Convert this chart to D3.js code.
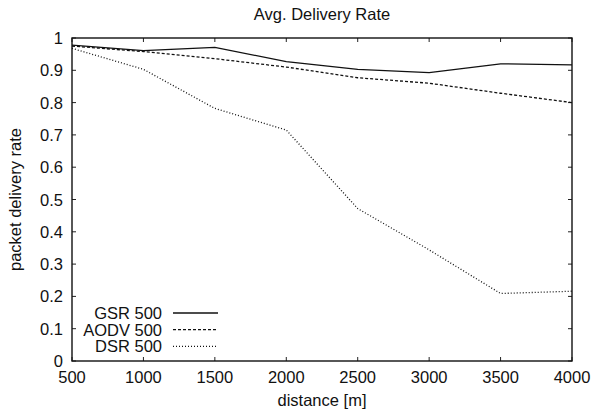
<!DOCTYPE html>
<html>
<head>
<meta charset="utf-8">
<script src="https://cdn.jsdelivr.net/npm/d3@7"></script>
<style>
  body { margin: 0; background: #fff; }
  text { font-family: "Liberation Sans", Arial, sans-serif; fill: #111; }
</style>
</head>
<body>
<div id="chart"></div>
<script>
const distances = [500, 1000, 1500, 2000, 2500, 3000, 3500, 4000]
const gsr = [0.978, 0.961, 0.971, 0.927, 0.903, 0.893, 0.920, 0.917]
const aodv = [0.975, 0.958, 0.936, 0.910, 0.877, 0.860, 0.829, 0.800]
const dsr = [0.968, 0.903, 0.782, 0.715, 0.472, 0.344, 0.209, 0.216]
const seriesNames = ["GSR 500", "AODV 500", "DSR 500"]
const xTicks = [500, 1000, 1500, 2000, 2500, 3000, 3500, 4000]
const yTicks = [0, 0.1, 0.2, 0.3, 0.4, 0.5, 0.6, 0.7, 0.8, 0.9, 1]

const width = 592, height = 413
const margin = {top: 38, right: 20, bottom: 52, left: 72}
const fs = 16.5

const svg = d3.select("#chart").append("svg")
  .attr("width", width)
  .attr("height", height)

const x = d3.scaleLinear().domain([500, 4000]).range([margin.left, width - margin.right])
const y = d3.scaleLinear().domain([0, 1]).range([height - margin.bottom, margin.top])

// ticks, inward on all four sides
const tickLen = 4
const g = svg.append("g").attr("stroke", "#222").attr("stroke-width", 1)
xTicks.forEach(t => {
  g.append("line").attr("x1", x(t)).attr("x2", x(t)).attr("y1", y(0)).attr("y2", y(0) - tickLen)
  g.append("line").attr("x1", x(t)).attr("x2", x(t)).attr("y1", y(1)).attr("y2", y(1) + tickLen)
})
yTicks.forEach(t => {
  g.append("line").attr("x1", x(500)).attr("x2", x(500) + tickLen).attr("y1", y(t)).attr("y2", y(t))
  g.append("line").attr("x1", x(4000)).attr("x2", x(4000) - tickLen).attr("y1", y(t)).attr("y2", y(t))
})

svg.append("g").selectAll("text")
  .data(xTicks).enter().append("text")
  .attr("x", d => x(d)).attr("y", y(0) + 22)
  .attr("text-anchor", "middle")
  .attr("font-size", fs)
  .text(d => d)

svg.append("g").selectAll("text")
  .data(yTicks).enter().append("text")
  .attr("x", x(500) - 9).attr("y", d => y(d) + 6)
  .attr("text-anchor", "end")
  .attr("font-size", fs)
  .text(d => d)

const line = d3.line()
  .x((d, i) => x(distances[i]))
  .y(d => y(d))

const styles = [
  {data: gsr, dash: null},
  {data: aodv, dash: "3,2"},
  {data: dsr, dash: "1,2"}
]

styles.forEach(s => {
  svg.append("path")
    .attr("d", line(s.data))
    .attr("fill", "none")
    .attr("stroke", "#111")
    .attr("stroke-width", 1.3)
    .attr("stroke-dasharray", s.dash)
})

// legend
styles.forEach((s, i) => {
  const ly = 313 + i * 16.7
  svg.append("text")
    .attr("x", 162).attr("y", ly + 6)
    .attr("text-anchor", "end")
    .attr("font-size", fs)
    .text(seriesNames[i])
  svg.append("line")
    .attr("x1", 173).attr("x2", 218).attr("y1", ly).attr("y2", ly)
    .attr("stroke", "#111")
    .attr("stroke-width", 1.3)
    .attr("stroke-dasharray", s.dash)
})

// frame
svg.append("rect")
  .attr("x", x(500)).attr("y", y(1))
  .attr("width", x(4000) - x(500)).attr("height", y(0) - y(1))
  .attr("fill", "none")
  .attr("stroke", "#111")
  .attr("stroke-width", 1.4)

svg.append("text")
  .attr("x", (x(500) + x(4000)) / 2).attr("y", 20)
  .attr("text-anchor", "middle")
  .attr("font-size", fs)
  .text("Avg. Delivery Rate")

svg.append("text")
  .attr("x", (x(500) + x(4000)) / 2).attr("y", 406)
  .attr("text-anchor", "middle")
  .attr("font-size", fs)
  .text("distance [m]")

svg.append("text")
  .attr("transform", "translate(21," + (y(0.5)) + ") rotate(-90)")
  .attr("text-anchor", "middle")
  .attr("font-size", fs)
  .text("packet delivery rate")
</script>
</body>
</html>
